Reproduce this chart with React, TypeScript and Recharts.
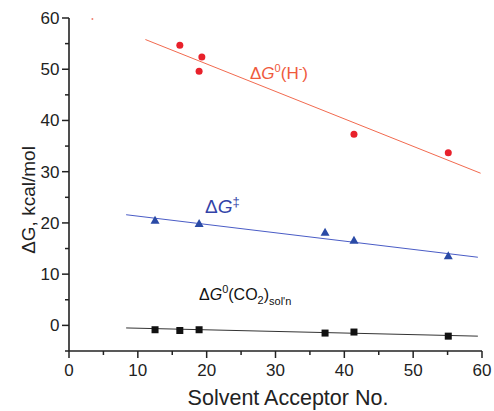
import React from 'react'
import { Customized, Scatter, ScatterChart, XAxis, YAxis } from 'recharts'

// ΔG0(H-) hydricity, red circles + fit
const hydrideX = [16.1, 18.9, 19.3, 41.4, 55.1]
const hydrideY = [54.7, 49.6, 52.4, 37.3, 33.7]
const hydrideFitX = [11.1, 59.8]
const hydrideFitY = [55.8, 29.7]

// ΔG‡ barrier, blue triangles + fit
const barrierX = [12.5, 18.9, 37.2, 41.4, 55.1]
const barrierY = [20.4, 19.8, 18.1, 16.5, 13.5]
const barrierFitX = [8.3, 59.4]
const barrierFitY = [21.6, 13.3]

// ΔG0(CO2)soln, black squares + fit
const co2X = [12.5, 16.1, 18.9, 37.2, 41.4, 55.1]
const co2Y = [-0.85, -1.0, -0.85, -1.5, -1.3, -2.1]
const co2FitX = [8.3, 59.4]
const co2FitY = [-0.5, -2.1]

// stray speck near the top left of the original
const strayX = [3.4]
const strayY = [59.8]

const xTicks = [0, 5, 10, 15, 20, 25, 30, 35, 40, 45, 50, 55, 60]
const yTicks = [-5, 0, 5, 10, 15, 20, 25, 30, 35, 40, 45, 50, 55, 60]

const FONT = '"Liberation Sans", Arial, sans-serif'
const AXIS = '#222'

const zip = (xs: number[], ys: number[]) => xs.map((x, i) => ({ x, y: ys[i] }))

const XTick = (props: any) => {
  const { x, y, payload } = props
  const major = payload.value % 10 === 0
  return (
    <g>
      <line x1={x} x2={x} y1={y} y2={y + (major ? 7 : 4)} stroke={AXIS} strokeWidth={1.5} />
      {major && (
        <text x={x} y={y + 24.5} textAnchor='middle' fontSize={17} fontFamily={FONT} fill={AXIS}>
          {payload.value}
        </text>
      )}
    </g>
  )
}

const YTick = (props: any) => {
  const { x, y, payload } = props
  const major = payload.value % 10 === 0
  return (
    <g>
      <line x1={x - (major ? 7 : 4)} x2={x} y1={y} y2={y} stroke={AXIS} strokeWidth={1.5} />
      {major && (
        <text x={x - 9.5} y={y + 6} textAnchor='end' fontSize={17} fontFamily={FONT} fill={AXIS}>
          {payload.value}
        </text>
      )}
    </g>
  )
}

const Circle = (p: any) => <circle cx={p.cx} cy={p.cy} r={3.5} fill='#e8212b' />
const Tri = (p: any) => (
  <polygon
    points={`${p.cx},${p.cy - 5} ${p.cx - 4.5},${p.cy + 3} ${p.cx + 4.5},${p.cy + 3}`}
    fill='#2a4aa6'
  />
)
const Square = (p: any) => <rect x={p.cx - 3.5} y={p.cy - 3.5} width={7} height={7} fill='#111' />
const Speck = (p: any) => <circle cx={p.cx} cy={p.cy} r={1} fill='#f08070' />
const NoShape = () => null

const Annotations = () => (
  <g fontFamily={FONT}>
    <text x={250} y={79} fontSize={17} fill='#ef5a3c'>
      Δ<tspan fontStyle='italic'>G</tspan>
      <tspan dy={-7} fontSize={11}>0</tspan>
      <tspan dy={7}>(H</tspan>
      <tspan dy={-7} fontSize={11}>-</tspan>
      <tspan dy={7}>)</tspan>
    </text>
    <text x={205} y={213} fontSize={19} fill='#3343a8'>
      Δ<tspan fontStyle='italic'>G</tspan>
      <tspan dy={-7} fontSize={13}>‡</tspan>
    </text>
    <text x={199} y={300} fontSize={16} fill='#111'>
      Δ<tspan fontStyle='italic'>G</tspan>
      <tspan dy={-7} fontSize={11}>0</tspan>
      <tspan dy={7}>(CO</tspan>
      <tspan dy={4} fontSize={11}>2</tspan>
      <tspan dy={-4}>)</tspan>
      <tspan dy={5} fontSize={11}>sol'n</tspan>
    </text>
    <text
      x={35}
      y={200}
      transform='rotate(-90, 35, 200)'
      textAnchor='middle'
      fontSize={19}
      fill={AXIS}
    >
      ΔG, kcal/mol
    </text>
    <text x={288} y={405} textAnchor='middle' fontSize={21.5} fill={AXIS}>
      Solvent Acceptor No.
    </text>
  </g>
)

export default function App() {
  return (
    <div style={{ position: 'absolute', left: 0, top: 0, background: '#fff' }}>
      <ScatterChart
        width={494}
        height={411}
        margin={{ top: 18, right: 12, bottom: 0, left: 0 }}
      >
        <XAxis
          type='number'
          dataKey='x'
          domain={[0, 60]}
          ticks={xTicks}
          interval={0}
          height={60}
          tickSize={0}
          tickMargin={0}
          tickLine={false}
          axisLine={{ stroke: AXIS, strokeWidth: 1.6 }}
          tick={<XTick />}
          allowDataOverflow
        />
        <YAxis
          type='number'
          dataKey='y'
          domain={[-5, 60]}
          ticks={yTicks}
          interval={0}
          width={69}
          tickSize={0}
          tickMargin={0}
          tickLine={false}
          axisLine={{ stroke: AXIS, strokeWidth: 1.6 }}
          tick={<YTick />}
          allowDataOverflow
        />
        <Scatter data={zip(hydrideFitX, hydrideFitY)} line={{ stroke: '#f26a4f', strokeWidth: 1 }} shape={NoShape} isAnimationActive={false} />
        <Scatter data={zip(barrierFitX, barrierFitY)} line={{ stroke: '#4a5cc6', strokeWidth: 1 }} shape={NoShape} isAnimationActive={false} />
        <Scatter data={zip(co2FitX, co2FitY)} line={{ stroke: '#333', strokeWidth: 1 }} shape={NoShape} isAnimationActive={false} />
        <Scatter data={zip(hydrideX, hydrideY)} shape={Circle} isAnimationActive={false} />
        <Scatter data={zip(barrierX, barrierY)} shape={Tri} isAnimationActive={false} />
        <Scatter data={zip(co2X, co2Y)} shape={Square} isAnimationActive={false} />
        <Scatter data={zip(strayX, strayY)} shape={Speck} isAnimationActive={false} />
        <Customized component={Annotations} />
      </ScatterChart>
    </div>
  )
}
